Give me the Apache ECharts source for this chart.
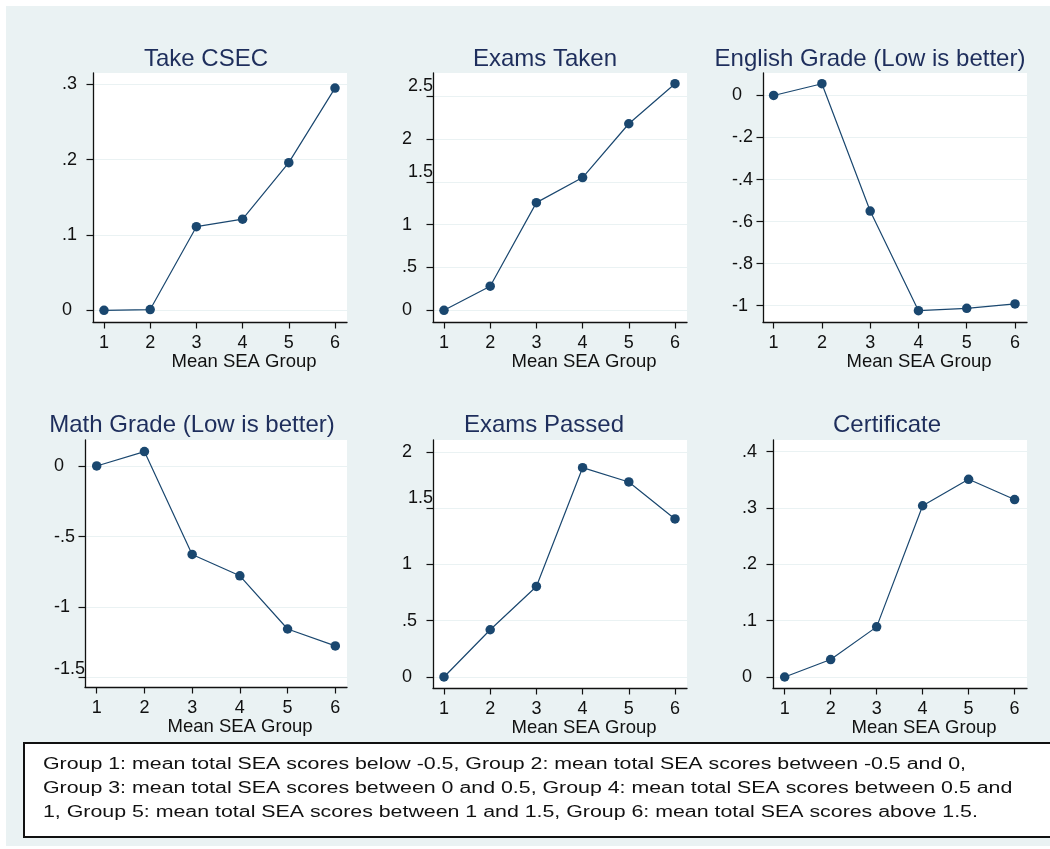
<!DOCTYPE html>
<html>
<head>
<meta charset="utf-8">
<script src="https://cdn.jsdelivr.net/npm/echarts@6/dist/echarts.min.js"></script>
<style>
  html, body { margin: 0; padding: 0; background: #fff; }
  #chart { width: 1050px; height: 849px; }
</style>
</head>
<body>
<div id="chart"></div>
<script>
// groups on the x axis
const groups = [1, 2, 3, 4, 5, 6];

// series values
const takeCsec = [0, 0.001, 0.111, 0.121, 0.196, 0.295];
const examsTaken = [0, 0.281, 1.258, 1.551, 2.18, 2.648];
const englishGrade = [0, 0.056, -0.55, -1.024, -1.013, -0.992];
const mathGrade = [0, 0.102, -0.627, -0.778, -1.155, -1.275];
const examsPassed = [0, 0.42, 0.805, 1.861, 1.734, 1.405];
const certificate = [0, 0.031, 0.089, 0.304, 0.351, 0.315];

// y tick values
const ticksTakeCsec = [0, 0.1, 0.2, 0.3];
const ticksExamsTaken = [0, 0.5, 1, 1.5, 2, 2.5];
const ticksEnglish = [-1, -0.8, -0.6, -0.4, -0.2, 0];
const ticksMath = [-1.5, -1, -0.5, 0];
const ticksPassed = [0, 0.5, 1, 1.5, 2];
const ticksCert = [0, 0.1, 0.2, 0.3, 0.4];

const xTitle = "Mean SEA Group";
const noteLines = [
  "Group 1: mean total SEA scores below -0.5, Group 2: mean total SEA scores between -0.5 and 0,",
  "Group 3: mean total SEA scores between 0 and 0.5, Group 4: mean total SEA scores between 0.5 and",
  "1, Group 5: mean total SEA scores between 1 and 1.5, Group 6: mean total SEA scores above 1.5."
];

const FONT = "'Liberation Sans', Arial, Helvetica, sans-serif";
const NAVY = "#1a476f";
const BG = "#eaf2f3";

const panels = [
  { title: "Take CSEC", values: takeCsec, ticks: ticksTakeCsec,
    grid: [93, 73, 254, 249], x: [0.762, 6.26], y: [-0.0155, 0.315], tx: 206, ty: 59 },
  { title: "Exams Taken", values: examsTaken, ticks: ticksExamsTaken,
    grid: [433, 73, 254, 249], x: [0.762, 6.26], y: [-0.137, 2.773], tx: 545, ty: 59 },
  { title: "English Grade (Low is better)", values: englishGrade, ticks: ticksEnglish,
    grid: [763, 73, 264, 249], x: [0.78, 6.248], y: [-1.078, 0.107], tx: 870, ty: 59 },
  { title: "Math Grade (Low is better)", values: mathGrade, ticks: ticksMath,
    grid: [85, 440, 262, 247], x: [0.755, 6.245], y: [-1.566, 0.184], tx: 192, ty: 425 },
  { title: "Exams Passed", values: examsPassed, ticks: ticksPassed,
    grid: [433, 440, 254, 248], x: [0.762, 6.26], y: [-0.098, 2.107], tx: 544, ty: 425 },
  { title: "Certificate", values: certificate, ticks: ticksCert,
    grid: [773, 440, 254, 248], x: [0.746, 6.27], y: [-0.0195, 0.4207], tx: 887, ty: 425 }
];

// Stata-style labels: .3 instead of 0.3
function stataLabel(v) {
  return String(Number(v.toFixed(3))).replace(/^(-?)0\./, "$1.");
}

const labelBase = { fontFamily: FONT, fontSize: 18, color: "#111" };

const chart = echarts.init(document.getElementById("chart"));

const grid = [], xAxis = [], yAxis = [], series = [], graphic = [];

panels.forEach((p, i) => {
  grid.push({
    left: p.grid[0], top: p.grid[1], width: p.grid[2], height: p.grid[3],
    show: true, backgroundColor: "#fff", borderWidth: 0, containLabel: false
  });

  xAxis.push({
    type: "value", gridIndex: i, min: p.x[0], max: p.x[1],
    name: xTitle, nameLocation: "middle", nameGap: 29,
    nameTextStyle: { fontFamily: FONT, fontSize: 18.5, color: "#111", padding: [0, 0, 0, 48], verticalAlign: "top" },
    axisLine: { show: true, onZero: false, lineStyle: { color: "#111", width: 1.3 } },
    axisTick: { show: true, length: 6.5, customValues: groups, lineStyle: { color: "#111", width: 1.2 } },
    axisLabel: Object.assign({ margin: 12, customValues: groups }, labelBase),
    splitLine: { show: false }
  });

  yAxis.push({
    type: "value", gridIndex: i, min: p.y[0], max: p.y[1],
    axisLine: { show: true, onZero: false, lineStyle: { color: "#111", width: 1.3 } },
    axisTick: { show: true, length: 6.5, customValues: p.ticks, lineStyle: { color: "#111", width: 1.2 } },
    axisLabel: Object.assign({
      margin: 31, align: "left", customValues: p.ticks,
      formatter: (v) => {
        const s = stataLabel(v);
        // labels like 2.5 or -1.5 sit higher in the original
        if (/\d\.\d/.test(s)) return "{" + (s[0] === "-" ? "sn" : "sp") + "|" + s + "}";
        return s;
      },
      rich: {
        sp: Object.assign({ padding: [0, 0, 20, 6] }, labelBase),
        sn: Object.assign({ padding: [0, 0, 17, 0] }, labelBase)
      }
    }, labelBase),
    splitLine: { show: true, lineStyle: { color: BG, width: 1.2 } }
  });

  series.push({
    type: "line", xAxisIndex: i, yAxisIndex: i,
    data: groups.map((g, k) => [g, p.values[k]]),
    symbol: "circle", symbolSize: 9.5,
    lineStyle: { color: NAVY, width: 1.2 },
    itemStyle: { color: NAVY },
    silent: true
  });

  graphic.push({
    type: "text", x: p.tx, y: p.ty,
    style: { text: p.title, fontFamily: FONT, fontSize: 24, fill: "#1e2e5c", align: "center", verticalAlign: "middle" }
  });
});

// white margin strips round the bluish background
graphic.push(
  { type: "rect", shape: { x: 0, y: 0, width: 1050, height: 6 }, style: { fill: "#fff" }, silent: true },
  { type: "rect", shape: { x: 0, y: 0, width: 6, height: 849 }, style: { fill: "#fff" }, silent: true },
  { type: "rect", shape: { x: 0, y: 846, width: 1050, height: 3 }, style: { fill: "#fff" }, silent: true }
);

// note box
graphic.push({
  type: "rect", shape: { x: 24, y: 743, width: 1040, height: 94 },
  style: { fill: "#fff", stroke: "#111", lineWidth: 2 }, silent: true
});

// the note text in the original is wide; stretch it to the same line length
const ctx = document.createElement("canvas").getContext("2d");
ctx.font = "16px " + FONT;
const noteScale = 923 / ctx.measureText(noteLines[0]).width;
noteLines.forEach((line, k) => {
  graphic.push({
    type: "text", x: 43, y: 765 + k * 24, scaleX: noteScale,
    style: { text: line, fontFamily: FONT, fontSize: 16, fill: "#111", align: "left", verticalAlign: "middle" }
  });
});

chart.setOption({
  backgroundColor: BG,
  animation: false,
  grid, xAxis, yAxis, series, graphic
});
</script>
</body>
</html>
